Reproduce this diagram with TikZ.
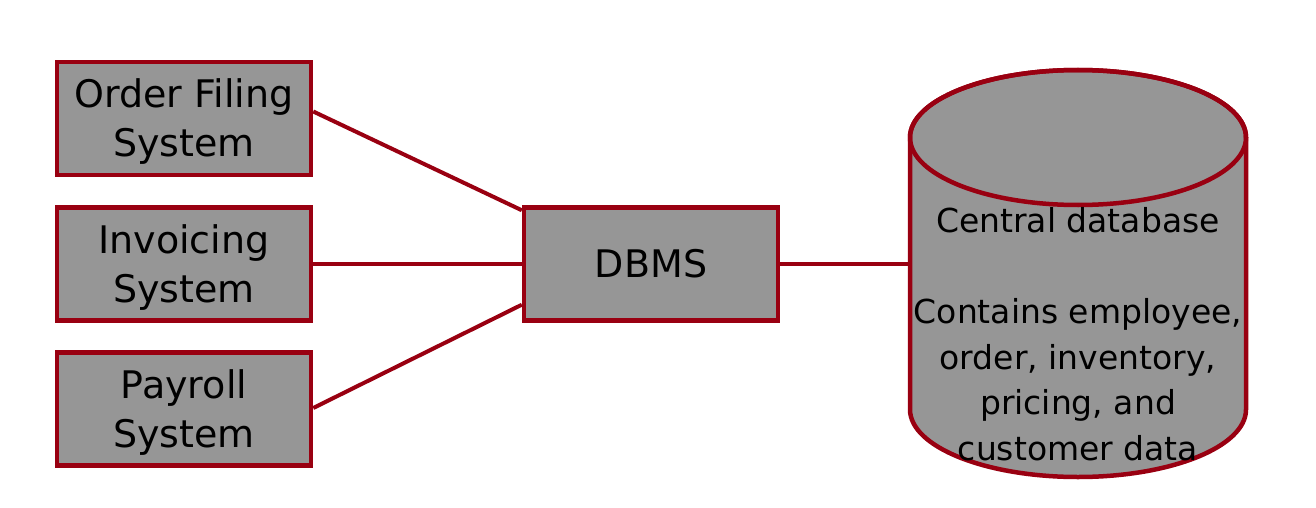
\documentclass[tikz,border=0pt]{standalone}
\usepackage{fontspec}
\setmainfont{DejaVu Sans}
\definecolor{brd}{RGB}{153,0,17}
\definecolor{fil}{RGB}{150,150,150}
\begin{document}
\begin{tikzpicture}[x=1pt,y=-1pt,
  sysbox/.style={draw=brd,fill=fil,line width=4.5pt,minimum width=254pt,minimum height=113pt,
    inner sep=0pt,align=center,font=\fontsize{38}{49}\selectfont},
  boxtext/.style={align=center,inner sep=0pt,font=\fontsize{38}{49}\selectfont},
  conn/.style={draw=brd,line width=4pt}]
\useasboundingbox (0,0) rectangle (1316,508);
\node[sysbox] (ofs) at (184,118.5) {};
\node[sysbox] (inv) at (184,264) {};
\node[sysbox] (pay) at (184,409) {};
\node[boxtext] (ofst) at (184,122) {Order Filing\\ System};
\node[boxtext] (invt) at (184,268) {Invoicing\\ System};
\node[boxtext] (payt) at (184,413) {Payroll\\ System};
\node[sysbox] (dbms) at (651,264) {DBMS};
% cylinder
\path[draw=brd,fill=fil,line width=4.5pt]
  (910,137.5) -- (910,409.5) arc[start angle=180,end angle=0,x radius=168,y radius=67.5]
  -- (1246,137.5) arc[start angle=0,end angle=-180,x radius=168,y radius=67.5] -- cycle;
\draw[draw=brd,line width=4.5pt] (1078,137.5) ellipse[x radius=168,y radius=67.5];
\coordinate (dbl) at (910,264);
\node[align=center,inner sep=0pt,font=\fontsize{33}{45.5}\selectfont] (dbtext) at (1078,334)
  {Central database\\[0pt] \\ Contains employee,\\ order, inventory,\\ pricing, and\\ customer data};
\draw[conn] ([yshift=7pt]ofs.east) -- ([yshift=-5pt]dbms.north west);
\draw[conn] (inv.east) -- (dbms.west);
\draw[conn] ([yshift=1pt]pay.east) -- ([yshift=18pt]dbms.south west);
\draw[conn] (dbms.east) -- (dbl);
\end{tikzpicture}
\end{document}
